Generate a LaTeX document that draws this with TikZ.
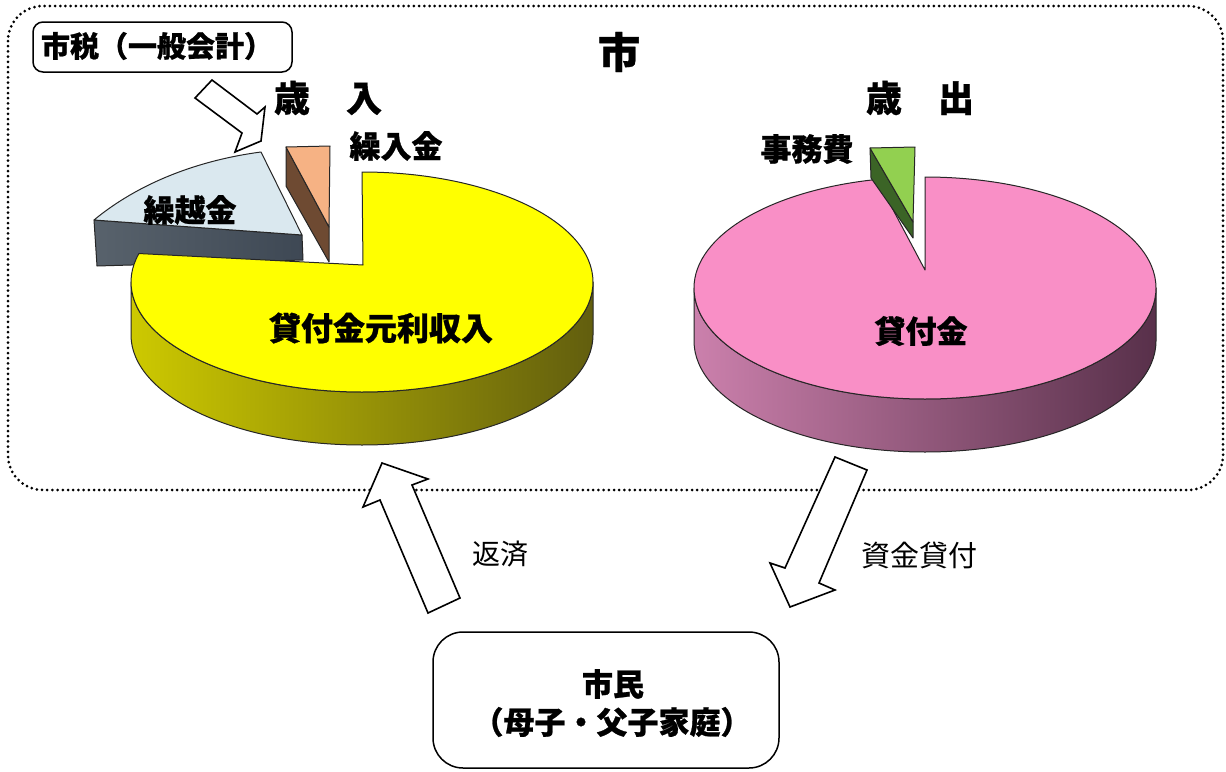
\documentclass[tikz,border=0pt]{standalone}
\usepackage{fontspec}
\setmainfont{Noto Sans CJK JP}[BoldFeatures={FakeBold=0.8}]
\definecolor{ytop}{RGB}{255,255,0}
\definecolor{yside1}{RGB}{205,201,0}
\definecolor{yside2}{RGB}{180,176,0}
\definecolor{yside3}{RGB}{98,94,14}
\definecolor{ptop}{RGB}{249,143,198}
\definecolor{pside1}{RGB}{203,128,172}
\definecolor{pside2}{RGB}{150,84,124}
\definecolor{pside3}{RGB}{88,48,74}
\definecolor{lblue}{RGB}{218,232,239}
\definecolor{slate1}{RGB}{88,98,108}
\definecolor{slate2}{RGB}{62,72,84}
\definecolor{peach}{RGB}{246,178,132}
\definecolor{brownf}{RGB}{110,74,50}
\definecolor{gtop}{RGB}{146,208,80}
\definecolor{gdark}{RGB}{59,100,38}
\tikzset{
  outl/.style={draw=black!85, line width=1pt, line join=round},
  blockarrow/.style={draw=black, fill=white, line width=1.6pt, line join=miter},
  dotframe/.style={draw=black, line width=3pt, dash pattern=on 0pt off 5.2pt, line cap=round, rounded corners=35pt},
  rbox/.style={draw=black, line width=1.5pt, fill=white},
  bl/.style={font=\bfseries\fontsize{#1}{#1}\selectfont, inner sep=0pt},
  rl/.style={font=\fontsize{#1}{#1}\selectfont, inner sep=0pt}
}
\begin{document}
\begin{tikzpicture}[x=1pt,y=-1pt]
\useasboundingbox (0,0) rectangle (1226,771);
% frame of the city
\draw[dotframe] (8,6) rectangle (1223,490);
\node[bl=42] (shi) at (619,52) {市};
\node[bl=36] (sainyu) at (328,98) {歳　入};
\node[bl=36] (saishutsu) at (920,98) {歳　出};

% tax box
\draw[rbox, rounded corners=10pt] (33,22) rectangle (292,72);
\node[bl=29] (tax) at (157,46) {市税（一般会計）};
% tax arrow
\draw[blockarrow] (212,80) -- (257,114) -- (265,107) -- (261,141) -- (235,152) -- (242,133) -- (195,98) -- cycle;

% ---- left pie ----
% kurikoshi slice
\draw[outl, left color=slate1, right color=slate2] (94,220) -- (302,235) -- (303,260) -- (97,266) -- cycle;
\draw[outl, fill=lblue] (302,235) -- (94,220) .. controls (140,182) and (200,160) .. (261,152) -- cycle;
% kuriire slice
\draw[outl, fill=brownf] (286,147) -- (329,227) -- (329,262) -- (286,186) -- cycle;
\draw[outl, fill=peach] (286,147) -- (330,146) -- (329,227) -- cycle;
% main yellow slice
\draw[outl, left color=yside1, middle color=yside2, right color=yside3]
  (131,282) arc[start angle=180, end angle=0, x radius=231, y radius=110]
  -- ++(0,53) arc[start angle=0, end angle=180, x radius=231, y radius=110] -- cycle;
\draw[outl, fill=ytop] (363,265) -- (362,172)
  arc[start angle=-90, end angle=195, x radius=231, y radius=110] -- cycle;

\node[bl=31] (kurikoshi) at (190,210) {繰越金};
\node[bl=31] (kuriire) at (396,146) {繰入金};
\node[bl=32] (gankin) at (381,328) {貸付金元利収入};

% ---- right pie ----
\draw[outl, left color=pside1, middle color=pside2, right color=pside3]
  (694,288) arc[start angle=180, end angle=0, x radius=231, y radius=111]
  -- ++(0,53) arc[start angle=0, end angle=180, x radius=231, y radius=111] -- cycle;
\draw[outl, fill=ptop] (925,270) -- (925,177)
  arc[start angle=-90, end angle=258, x radius=231, y radius=111] -- cycle;
\draw[outl, fill=gdark] (870,148) -- (913,222) -- (913,238) -- (871,178) -- cycle;
\draw[outl, fill=gtop] (870,148) -- (915,147) -- (913,222) -- cycle;

\node[bl=31] (jimuhi) at (807,149) {事務費};
\node[bl=31] (kashitsuke) at (921,331) {貸付金};

% ---- citizens ----
\draw[rbox, rounded corners=30pt] (433,632) rectangle (779,768);
\node[bl=31] (shimin) at (613,684) {市民};
\node[bl=31] (katei) at (612,722) {（母子・父子家庭）};

% repayment arrow (up)
\draw[blockarrow] (382,463) -- (428,479) -- (412,485) -- (460,598) -- (428,613) -- (380,500) -- (363,507) -- cycle;
\node[rl=28] (hensai) at (500,554) {返済};
% loan arrow (down)
\draw[blockarrow] (835,457) -- (867,470) -- (819,583) -- (835,590) -- (790,607) -- (770,563) -- (785,568) -- cycle;
\node[rl=29] (shikin) at (919,555) {資金貸付};
\end{tikzpicture}
\end{document}
